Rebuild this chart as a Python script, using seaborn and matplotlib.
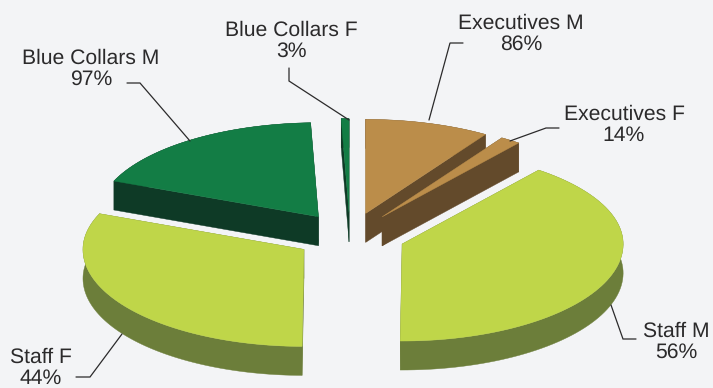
import numpy as np
import matplotlib
matplotlib.use("Agg")
import matplotlib.pyplot as plt
from matplotlib.patches import Polygon
import seaborn as sns

# Workforce by grade: each grade's share of the total, split by gender
grades = ["Executives", "Staff", "Blue Collars"]
grade_share = [10.6, 70.6, 18.8]
male_pct = [86, 56, 97]
female_pct = [14, 44, 3]

top_colors = ["#bb8d4a", "#bfd649", "#137d45"]
side_colors = ["#634a2b", "#6c7e3a", "#0e3a26"]
ink = "#2b2a2b"
paper = "#f3f4f6"

sns.set_theme(style="white", rc={"figure.facecolor": paper, "axes.facecolor": paper})
plt.rcParams["font.family"] = ["Liberation Sans", "DejaVu Sans"]
plt.rcParams["text.hinting"] = "no_hinting"

# Projection of the tilted pie, in figure pixels; the far half is slightly
# foreshortened compared with the near half
CX, CY = 350.0, 236.0
RX = 221.0
RY_FAR, RY_NEAR = 94.0, 97.0
DEPTH = 29.0
EXPLODE = 0.25


def project(theta, radius=1.0):
    """Offset of a clockwise angle from twelve o'clock on the tilted plane."""
    c = np.cos(theta)
    ry = np.where(c > 0, RY_FAR, RY_NEAR)
    return RX * radius * np.sin(theta), -ry * radius * c


fig, ax = plt.subplots(figsize=(7.13, 3.88), dpi=100)
fig.subplots_adjust(0, 0, 1, 1)
ax.set_xlim(0, 713)
ax.set_ylim(388, 0)
ax.axis("off")

# Walk round the pie clockwise, turning each percentage into an angular span
wedges = {}
start = 0.0
for g, name in enumerate(grades):
    for gender, pct in (("M", male_pct[g]), ("F", female_pct[g])):
        span = 360.0 * grade_share[g] / 100.0 * pct / 100.0
        wedges[(name, gender)] = (g, start, start + span)
        start += span


def draw_wedge(group, a0, a1):
    t0, t1 = np.radians(a0), np.radians(a1)
    dx, dy = project((t0 + t1) / 2, EXPLODE)
    apex = np.array([CX + float(dx), CY + float(dy)])
    t = np.linspace(t0, t1, 80)
    px, py = project(t)
    arc = apex + np.column_stack([px, py])
    drop = np.array([0, DEPTH])
    side = side_colors[group]
    for rim_pt in (arc[0], arc[-1]):
        wall = [apex, rim_pt, rim_pt + drop, apex + drop]
        ax.add_patch(Polygon(wall, closed=True, fc=side, ec=side, lw=0.3))
    rim = np.vstack([arc, (arc + drop)[::-1]])
    ax.add_patch(Polygon(rim, closed=True, fc=side, ec=side, lw=0.3))
    face = np.vstack([apex, arc])
    ax.add_patch(Polygon(face, closed=True, fc=top_colors[group], ec=top_colors[group], lw=0.3))


# Back slices first so the nearer ones overlap them
paint_order = [("Blue Collars", "F"), ("Blue Collars", "M"), ("Executives", "M"),
               ("Executives", "F"), ("Staff", "F"), ("Staff", "M")]
for key in paint_order:
    draw_wedge(*wedges[key])

# Leader lines and two-line labels
leaders = {
    ("Executives", "M"): [(463, 43), (450, 43), (429, 120)],
    ("Executives", "F"): [(559, 128), (546, 128), (510, 141)],
    ("Blue Collars", "F"): [(289, 68), (289, 81), (349, 120)],
    ("Blue Collars", "M"): [(127, 83), (140, 83), (190, 141)],
    ("Staff", "M"): [(611, 305), (623, 339), (636, 339)],
    ("Staff", "F"): [(76, 377), (90, 377), (122, 334)],
}
anchors = {
    ("Executives", "M"): (521, 29),
    ("Executives", "F"): (624, 120),
    ("Blue Collars", "F"): (291, 36),
    ("Blue Collars", "M"): (91, 64),
    ("Staff", "M"): (676.5, 337),
    ("Staff", "F"): (41, 363),
}
for (name, gender), pts in leaders.items():
    xs, ys = zip(*pts)
    ax.plot(xs, ys, color=ink, lw=0.9, solid_joinstyle="miter")
    g = grades.index(name)
    pct = male_pct[g] if gender == "M" else female_pct[g]
    x, y = anchors[(name, gender)]
    ax.text(x, y, f"{name} {gender}", ha="center", va="baseline", fontsize=15.2, color=ink)
    ax.text(x, y + 21, f"{pct}%", ha="center", va="baseline", fontsize=15.2, color=ink)

fig.savefig("out.png", dpi=100, facecolor=paper)
